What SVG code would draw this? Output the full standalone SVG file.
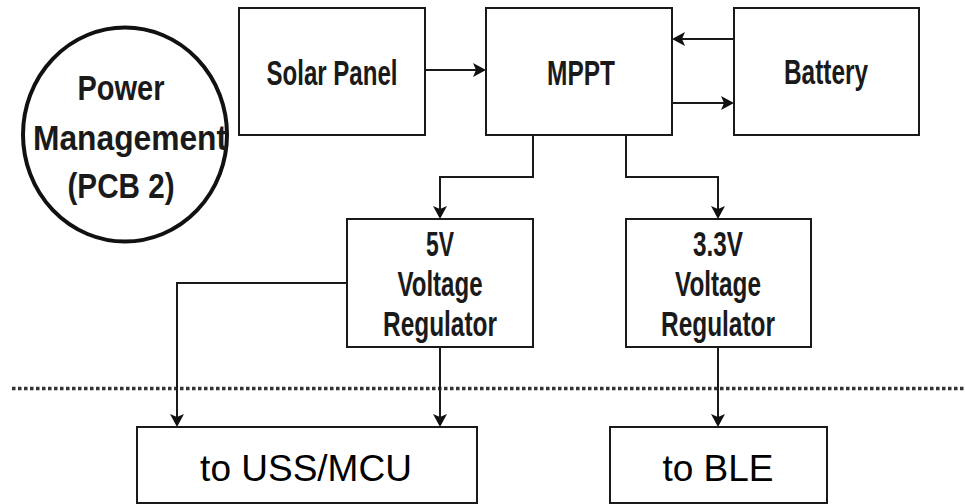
<svg xmlns="http://www.w3.org/2000/svg" width="965" height="504" viewBox="0 0 965 504">
<defs>
<path id="ahR" d="M-13,-7 L0,0 L-13,7 L-10,0 Z"/>
<path id="ahL" d="M13,-7 L0,0 L13,7 L10,0 Z"/>
<path id="ahD" d="M-7,-13 L0,0 L7,-13 L0,-10 Z"/>
<style>
.box{fill:#ffffff;stroke:#1a1a1a;stroke-width:2}
.lbl{font-family:"Liberation Sans",Arial,sans-serif;font-weight:bold;font-size:35px;fill:#1a1a1a;text-anchor:middle}
.big{font-family:"Liberation Sans",Arial,sans-serif;font-size:37px;fill:#000;text-anchor:middle}
.conn{fill:none;stroke:#1a1a1a;stroke-width:2}
.head{fill:#111}
</style>
</defs>
<rect width="965" height="504" fill="#ffffff"/>
<line x1="12" y1="388.5" x2="965" y2="388.5" stroke="#333" stroke-width="3.5" stroke-dasharray="3.5 2.5"/>
<g id="title">
<ellipse cx="125" cy="134.5" rx="102" ry="107" fill="none" stroke="#111" stroke-width="4"/>
<text class="lbl" x="121" y="100" textLength="87" lengthAdjust="spacingAndGlyphs">Power</text>
<text class="lbl" x="130" y="150" textLength="194" lengthAdjust="spacingAndGlyphs">Management</text>
<text class="lbl" x="121" y="198" textLength="107" lengthAdjust="spacingAndGlyphs">(PCB 2)</text>
</g>
<g id="solar">
<rect class="box" x="239" y="8" width="186" height="127"/>
<text class="lbl" x="332" y="85" textLength="131" lengthAdjust="spacingAndGlyphs">Solar Panel</text>
</g>
<g id="mppt">
<rect class="box" x="486" y="8" width="186" height="127"/>
<text class="lbl" x="581" y="85" textLength="68" lengthAdjust="spacingAndGlyphs">MPPT</text>
</g>
<g id="battery">
<rect class="box" x="734" y="8" width="185" height="127"/>
<text class="lbl" x="826" y="84" textLength="84" lengthAdjust="spacingAndGlyphs">Battery</text>
</g>
<g id="reg5v">
<rect class="box" x="347" y="219" width="186" height="128"/>
<text class="lbl" x="440" y="256" textLength="28" lengthAdjust="spacingAndGlyphs">5V</text>
<text class="lbl" x="440" y="296" textLength="85" lengthAdjust="spacingAndGlyphs">Voltage</text>
<text class="lbl" x="440" y="336" textLength="114" lengthAdjust="spacingAndGlyphs">Regulator</text>
</g>
<g id="reg33v">
<rect class="box" x="626" y="219" width="185" height="128"/>
<text class="lbl" x="718" y="256" textLength="50" lengthAdjust="spacingAndGlyphs">3.3V</text>
<text class="lbl" x="718" y="296" textLength="86" lengthAdjust="spacingAndGlyphs">Voltage</text>
<text class="lbl" x="718" y="336" textLength="114" lengthAdjust="spacingAndGlyphs">Regulator</text>
</g>
<g id="uss">
<rect class="box" x="137" y="427" width="340" height="76"/>
<text class="big" x="306" y="481">to USS/MCU</text>
</g>
<g id="ble">
<rect class="box" x="610" y="427" width="217" height="76"/>
<text class="big" x="718" y="481">to BLE</text>
</g>
<g id="connectors">
<path class="conn" d="M425,70 H477"/>
<path class="conn" d="M734,39 H681"/>
<path class="conn" d="M672,103 H725"/>
<path class="conn" d="M533,135 V177 H440 V210"/>
<path class="conn" d="M626,135 V177 H718 V210"/>
<path class="conn" d="M347,283 H177 V418"/>
<path class="conn" d="M440,347 V418"/>
<path class="conn" d="M718,347 V418"/>
<use class="head" href="#ahR" x="486" y="70"/>
<use class="head" href="#ahL" x="672" y="39"/>
<use class="head" href="#ahR" x="734" y="103"/>
<use class="head" href="#ahD" x="440" y="219"/>
<use class="head" href="#ahD" x="718" y="219"/>
<use class="head" href="#ahD" x="177" y="427"/>
<use class="head" href="#ahD" x="440" y="427"/>
<use class="head" href="#ahD" x="718" y="427"/>
</g>
</svg>
